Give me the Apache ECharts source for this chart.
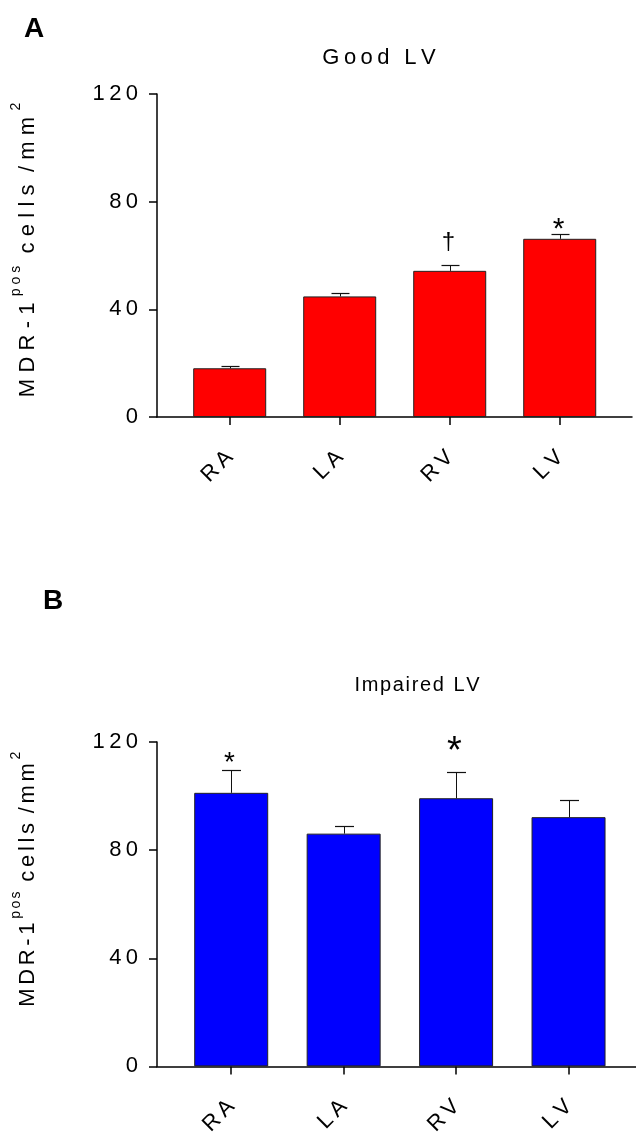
<!DOCTYPE html>
<html>
<head>
<meta charset="utf-8">
<script src="https://cdn.jsdelivr.net/npm/echarts@6/dist/echarts.min.js"></script>
<style>
  html, body { margin: 0; padding: 0; background: #fff; }
  #chart { width: 636px; height: 1138px; }
</style>
</head>
<body>
<div id="chart"></div>
<script>
// MDR-1 positive cell density per heart chamber (mean + SEM)
const categories = ['RA', 'LA', 'RV', 'LV'];
const yTicks = [0, 40, 80, 120];

const goodMeans = [18.1, 44.8, 54.3, 66.2];
const goodErrors = [1.0, 1.1, 2.1, 1.8];
const goodMarks = ['', '', '\u2020', '*'];

const impairedMeans = [101.2, 86.1, 99.2, 92.2];
const impairedErrors = [8.4, 2.9, 9.6, 6.2];
const impairedMarks = ['*', '', '*', ''];

const FONT = '"Liberation Sans", Arial, Helvetica, sans-serif';
const THIN = '\u2009';
const HAIR = '\u200A';
const spaced = (s, sep) => String(s).split('').join(sep);

// y-axis title with superscripts, letter-spaced by `sep`
function axisName(sep) {
  return '{m|' + spaced('MDR-1', sep) + sep + '}{s|' + spaced('pos', sep) + '}{m|' +
    sep + ' ' + spaced('cells', sep) + ' ' + sep + spaced('/mm', sep) + sep + '}{s|2}';
}

function panel(idx, cfg) {
  const grid = { left: 157, top: cfg.top, width: cfg.width, height: cfg.height, containLabel: false };
  const xAxis = {
    type: 'value', gridIndex: idx, min: cfg.xMin, max: cfg.xMax,
    axisLine: { show: true, onZero: false, lineStyle: { color: '#000', width: 1.5 } },
    axisTick: { show: true, customValues: [0, 1, 2, 3], length: 8, lineStyle: { color: '#000', width: 1.5 } },
    axisLabel: {
      customValues: [0, 1, 2, 3], rotate: 45, margin: 37,
      formatter: v => spaced(categories[Math.round(v)] || '', THIN),
      fontFamily: FONT, fontSize: 22, color: '#000'
    },
    splitLine: { show: false }
  };
  const yAxis = {
    type: 'value', gridIndex: idx, min: yTicks[0], max: yTicks[yTicks.length - 1],
    interval: yTicks[1] - yTicks[0],
    axisLine: { show: true, onZero: false, lineStyle: { color: '#000', width: 1.5 } },
    axisTick: { show: true, length: 8, lineStyle: { color: '#000', width: 1.5 } },
    axisLabel: { margin: 19, fontFamily: FONT, fontSize: 22, color: '#000', formatter: v => spaced(v, THIN) },
    splitLine: { show: false },
    name: axisName(cfg.nameSep), nameLocation: 'middle', nameRotate: 90, nameGap: cfg.nameGap,
    nameTextStyle: {
      fontFamily: FONT, color: '#000', padding: cfg.namePad,
      rich: {
        m: { fontFamily: FONT, fontSize: 22, color: '#000', lineHeight: 30, verticalAlign: 'bottom' },
        s: { fontFamily: FONT, fontSize: 14, color: '#000', lineHeight: 30, verticalAlign: 'top' }
      }
    }
  };
  const bars = {
    type: 'bar', xAxisIndex: idx, yAxisIndex: idx, barWidth: cfg.barWidth,
    data: cfg.means.map((m, i) => [i, m]),
    itemStyle: { color: cfg.color, borderColor: '#222', borderWidth: 1 },
    silent: true, z: 2
  };
  const errs = {
    type: 'custom', xAxisIndex: idx, yAxisIndex: idx, z: 5, silent: true,
    data: cfg.means.map((m, i) => [i, m, m + cfg.errors[i]]),
    renderItem(params, api) {
      const i = params.dataIndex;
      const base = api.coord([api.value(0), api.value(1)]);
      const top = api.coord([api.value(0), api.value(2)]);
      const x = Math.round(base[0]) + 0.5;
      const yTop = Math.round(top[1]) + 0.5;
      const children = [
        { type: 'line', shape: { x1: x, y1: base[1], x2: x, y2: yTop }, style: { stroke: '#111', lineWidth: 1 } },
        { type: 'line', shape: { x1: x - cfg.capHalf, y1: yTop, x2: x + cfg.capHalf, y2: yTop }, style: { stroke: '#111', lineWidth: 1.2 } }
      ];
      const mark = cfg.marks[i];
      if (mark) {
        children.push({
          type: 'text', x: x - 2, y: yTop - cfg.markLift[i],
          style: { text: mark, fontFamily: FONT, fontSize: cfg.markSize[i], fill: '#000', align: 'center', verticalAlign: 'middle' }
        });
      }
      return { type: 'group', children };
    }
  };
  return { grid, xAxis, yAxis, series: [bars, errs] };
}

const p0 = panel(0, {
  top: 94, height: 323, width: 475, xMin: -0.661, xMax: 3.657, barWidth: 73,
  means: goodMeans, errors: goodErrors, marks: goodMarks, color: '#ff0000',
  capHalf: 9, markSize: [0, 0, 24, 30], markLift: [0, 0, 23, 5],
  nameSep: THIN + HAIR, nameGap: 118, namePad: [0, 0, 0, 11]
});
const p1 = panel(1, {
  top: 742, height: 330, width: 479, xMin: -0.66, xMax: 3.6, barWidth: 74,
  means: impairedMeans, errors: impairedErrors, marks: impairedMarks, color: '#0000ff',
  capHalf: 9.5, markSize: [28, 0, 38, 0], markLift: [7, 0, 20, 0],
  nameSep: HAIR + HAIR, nameGap: 118, namePad: [0, 0, 0, 50]
});

const titleStyle = { fontFamily: FONT, fontSize: 22, fontWeight: 'normal', color: '#000' };
const panelLetter = { fontFamily: FONT, fontSize: 28, fontWeight: 'bold', color: '#000' };
const option = {
  animation: false,
  backgroundColor: '#fff',
  title: [
    { text: 'A', left: 19, top: 10, textStyle: panelLetter },
    { text: spaced('Good', THIN) + ' ' + THIN + THIN + spaced('LV', THIN), left: 374, top: 42, textAlign: 'center', textStyle: titleStyle },
    { text: 'B', left: 38, top: 582, textStyle: panelLetter },
    { text: spaced('Impaired', HAIR) + ' ' + THIN + spaced('LV', HAIR), left: 412, top: 670, textAlign: 'center',
      textStyle: Object.assign({}, titleStyle, { fontSize: 20 }) }
  ],
  grid: [p0.grid, p1.grid],
  xAxis: [p0.xAxis, p1.xAxis],
  yAxis: [p0.yAxis, p1.yAxis],
  series: [...p0.series, ...p1.series]
};

const chart = echarts.init(document.getElementById('chart'), null, { renderer: 'canvas' });
chart.setOption(option);
</script>
</body>
</html>
